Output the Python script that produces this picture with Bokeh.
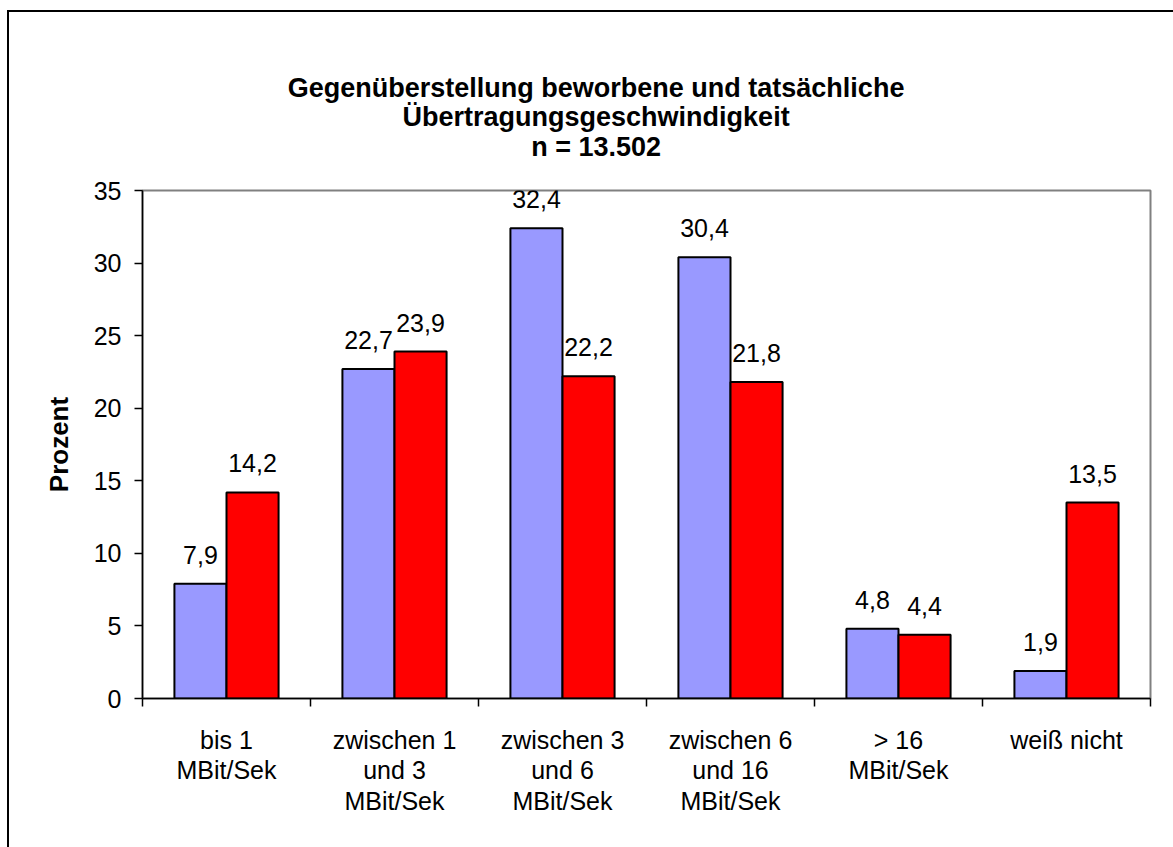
from bokeh.plotting import figure
from bokeh.models import FixedTicker, ColumnDataSource, LabelSet, LinearAxis, Range1d
from bokeh.core.properties import value
from bokeh.embed import file_html
from bokeh.resources import INLINE

# ---- data ----
categories = ["bis 1\nMBit/Sek", "zwischen 1\nund 3\nMBit/Sek", "zwischen 3\nund 6\nMBit/Sek",
              "zwischen 6\nund 16\nMBit/Sek", "> 16\nMBit/Sek", "weiß nicht"]
beworben = [7.9, 22.7, 32.4, 30.4, 4.8, 1.9]
tatsaechlich = [14.2, 23.9, 22.2, 21.8, 4.4, 13.5]
y_ticks = [0, 5, 10, 15, 20, 25, 30, 35]
title_text = "Gegenüberstellung beworbene und tatsächliche\nÜbertragungsgeschwindigkeit\nn = 13.502"
y_label = "Prozent"

FONT = "Liberation Sans"
BAR_W = 0.31
n = len(categories)
centers = [i + 0.5 for i in range(n)]
TITLE_X = 2.70  # horizontal anchor of the chart title (category units)

def fmt(v):
    return f"{v:.1f}".replace(".", ",")

src_b = ColumnDataSource(dict(x=[c - BAR_W / 2 for c in centers], top=beworben,
                              lab=[fmt(v) for v in beworben]))
src_r = ColumnDataSource(dict(x=[c + BAR_W / 2 for c in centers], top=tatsaechlich,
                              lab=[fmt(v) for v in tatsaechlich]))

p = figure(width=1173, height=847, x_range=Range1d(0, n), y_range=Range1d(0, 35),
           output_backend="svg", toolbar_location=None,
           min_border_left=142, min_border_right=23, min_border_top=190, min_border_bottom=149)
p.xgrid.visible = False
p.ygrid.visible = False
p.outline_line_color = "#808080"
p.outline_line_width = 2
p.background_fill_color = "white"
p.border_fill_color = None
# outer chart frame: black lines on the top and left edge
p.styles = {"background": "linear-gradient(#000,#000) 7px 10px / 2px calc(100% - 10px) no-repeat, "
                          "linear-gradient(#000,#000) 7px 10px / calc(100% - 7px) 2px no-repeat, #ffffff"}

p.vbar(x="x", top="top", bottom=0, width=BAR_W, source=src_b,
       fill_color="#9999FF", line_color="black", line_width=2)
p.vbar(x="x", top="top", bottom=0, width=BAR_W, source=src_r,
       fill_color="#FF0000", line_color="black", line_width=2)

for src in (src_b, src_r):
    p.add_layout(LabelSet(x="x", y="top", text="lab", source=src, text_align="center",
                          text_baseline="alphabetic", y_offset=20,
                          text_font=value(FONT), text_font_size="25px", text_color="black"))

# x axis
xa = p.xaxis[0]
xa.ticker = FixedTicker(ticks=centers, minor_ticks=list(range(n + 1)))
xa.major_label_overrides = {c: lab for c, lab in zip(centers, categories)}
xa.major_tick_in = 0
xa.major_tick_out = 0
xa.minor_tick_in = 0
xa.minor_tick_out = 8
xa.minor_tick_line_color = "black"
xa.minor_tick_line_width = 1.5
xa.axis_line_color = "black"
xa.axis_line_width = 1.5
xa.major_label_standoff = 19
xa.major_label_text_font = FONT
xa.major_label_text_font_size = "25px"
xa.major_label_text_color = "black"
xa.major_label_text_line_height = 1.1

# y axis
ya = p.yaxis[0]
ya.ticker = FixedTicker(ticks=y_ticks, minor_ticks=[])
ya.major_tick_in = 0
ya.major_tick_out = 8
ya.major_tick_line_color = "black"
ya.major_tick_line_width = 1.5
ya.axis_line_color = "black"
ya.axis_line_width = 1.5
ya.major_label_standoff = 13
ya.major_label_text_font = FONT
ya.major_label_text_font_size = "25px"
ya.major_label_text_color = "black"
ya.axis_label = y_label
ya.axis_label_text_font = FONT
ya.axis_label_text_font_style = "bold"
ya.axis_label_text_font_size = "26px"
ya.axis_label_text_color = "black"
ya.axis_label_standoff = 17

# chart title, drawn as a label-only axis above the plot area
ta = LinearAxis(ticker=FixedTicker(ticks=[TITLE_X], minor_ticks=[]),
                major_label_overrides={TITLE_X: title_text})
ta.axis_line_color = None
ta.major_tick_line_color = None
ta.minor_tick_line_color = None
ta.major_tick_in = 0
ta.major_tick_out = 0
ta.major_label_standoff = 29
ta.major_label_text_font = FONT
ta.major_label_text_font_style = "bold"
ta.major_label_text_font_size = "27px"
ta.major_label_text_color = "black"
ta.major_label_text_line_height = 0.97
p.add_layout(ta, "above")

open("out.html", "w").write(file_html(p, INLINE))
